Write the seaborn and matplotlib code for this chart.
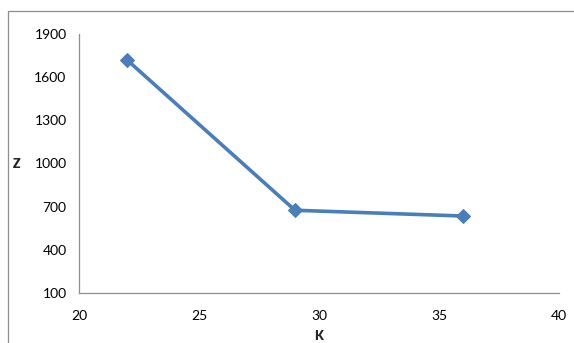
import matplotlib
matplotlib.use("Agg")
import matplotlib.pyplot as plt
import seaborn as sns
import pandas as pd
from matplotlib.lines import Line2D

k_values = [22, 29, 36]
z_values = [1720, 675, 635]
x_ticks = [20, 25, 30, 35, 40]
y_ticks = [100, 400, 700, 1000, 1300, 1600, 1900]

sns.set_style("white")
plt.rcParams["font.family"] = ["Lato", "DejaVu Sans"]

df = pd.DataFrame({"K": k_values, "Z": z_values})

fig = plt.figure(figsize=(5.74, 3.43), dpi=100)
ax = fig.add_axes([79 / 574, 1 - 293 / 343, 480 / 574, 259 / 343])

# chart-area frame: left and top edges
fx, fy = 7.5 / 574, 1 - 11 / 343
fig.lines.append(Line2D([fx, fx], [-0.05, fy], transform=fig.transFigure,
                        color="#8f8f8f", linewidth=0.9))
fig.lines.append(Line2D([fx, 1.05], [fy, fy], transform=fig.transFigure,
                        color="#8f8f8f", linewidth=0.9))

sns.lineplot(data=df, x="K", y="Z", ax=ax, color="#4a7ebb", linewidth=2.6,
             marker="D", markersize=7, markeredgecolor="#4a7ebb")

ax.set_xlim(20, 40)
ax.set_ylim(100, 1900)
ax.set_xticks(x_ticks)
ax.set_yticks(y_ticks)
ax.tick_params(axis="both", direction="out", length=4, width=0.9,
               color="#8f8f8f", labelsize=10, labelcolor="#000000", pad=5)
ax.tick_params(axis="x", pad=8)
for side in ["top", "right"]:
    ax.spines[side].set_visible(False)
for side in ["left", "bottom"]:
    ax.spines[side].set_color("#8f8f8f")
    ax.spines[side].set_linewidth(0.9)

ax.set_xlabel("K", fontsize=9, fontweight="heavy", labelpad=6)
ax.set_ylabel("Z", fontsize=9, fontweight="heavy", rotation=0, labelpad=13,
              va="center")

fig.savefig("out.png", dpi=100)
